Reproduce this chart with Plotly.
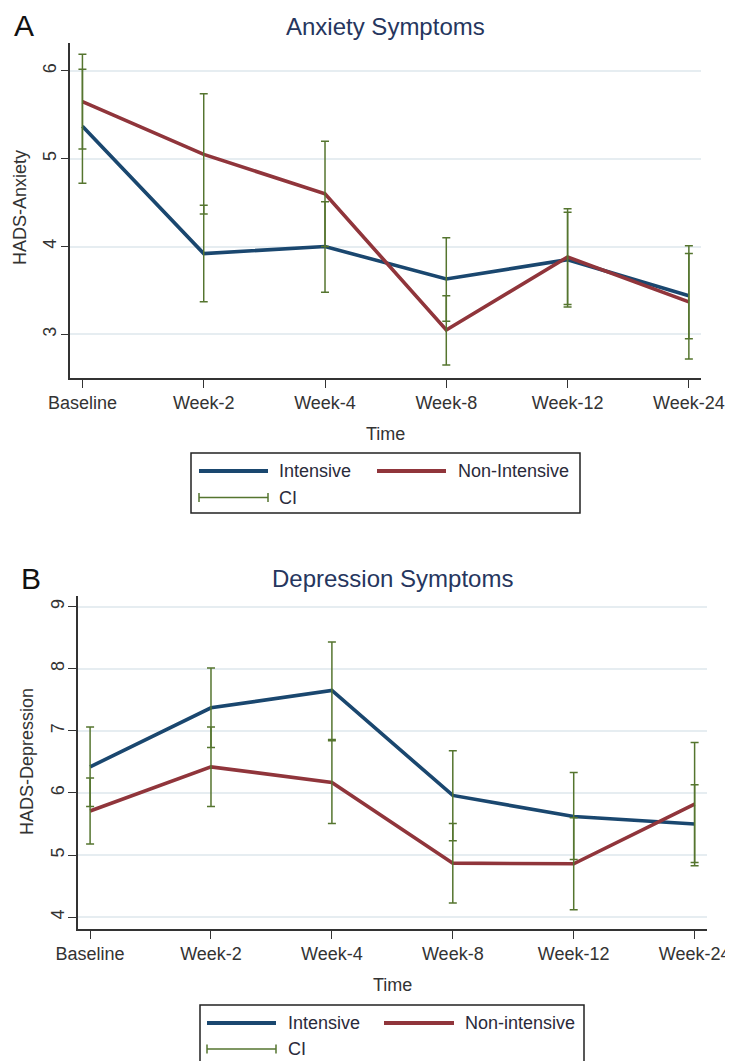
import plotly.graph_objects as go

# ---------------- data ----------------
timepoints = ["Baseline", "Week-2", "Week-4", "Week-8", "Week-12", "Week-24"]

# Panel A: HADS-Anxiety
anx_int_mean = [5.37, 3.92, 4.00, 3.63, 3.85, 3.44]
anx_int_lo = [4.72, 3.37, 3.48, 3.15, 3.31, 2.95]
anx_int_hi = [6.02, 4.47, 4.51, 4.10, 4.39, 3.92]
anx_non_mean = [5.65, 5.05, 4.60, 3.05, 3.88, 3.37]
anx_non_lo = [5.11, 4.37, 4.00, 2.65, 3.34, 2.72]
anx_non_hi = [6.19, 5.74, 5.20, 3.44, 4.43, 4.01]
anx_ticks = [3, 4, 5, 6]

# Panel B: HADS-Depression
dep_int_mean = [6.42, 7.37, 7.65, 5.96, 5.62, 5.50]
dep_int_lo = [5.78, 6.73, 6.86, 5.23, 4.93, 4.88]
dep_int_hi = [7.06, 8.01, 8.43, 6.68, 6.33, 6.13]
dep_non_mean = [5.71, 6.42, 6.17, 4.87, 4.86, 5.82]
dep_non_lo = [5.18, 5.78, 5.51, 4.23, 4.12, 4.83]
dep_non_hi = [6.24, 7.06, 6.84, 5.51, 5.60, 6.81]
dep_ticks = [4, 5, 6, 7, 8, 9]

# ---------------- style ----------------
# the page body has an 8px margin, so the figure is offset by 8px on screen
OX, OY = 8, 8
W, H = 725, 1053
BLUE = "#1a476f"
RED = "#90353b"
GREEN = "#55752f"
TITLE_C = "#26365e"
TXT = "#333333"
GRID = "#e6edf1"
FONT = "Liberation Sans, Arial, sans-serif"


def px(x):
    return (x - OX) / W


def py(y):
    return 1 - (y - OY) / H


fig = go.Figure()


def add_panel(xa, ya, int_mean, int_lo, int_hi, non_mean, non_lo, non_hi, names):
    fig.add_trace(go.Scatter(x=timepoints, y=int_mean, mode="lines", name=names[0],
                             line=dict(color=BLUE, width=3.6), xaxis=xa, yaxis=ya,
                             showlegend=False))
    fig.add_trace(go.Scatter(x=timepoints, y=non_mean, mode="lines", name=names[1],
                             line=dict(color=RED, width=3.6), xaxis=xa, yaxis=ya,
                             showlegend=False))
    for mean, lo, hi in ((int_mean, int_lo, int_hi), (non_mean, non_lo, non_hi)):
        fig.add_trace(go.Scatter(
            x=timepoints, y=mean, mode="markers", name="CI",
            marker=dict(size=1, color="rgba(0,0,0,0)"),
            error_y=dict(type="data", symmetric=False,
                         array=[h - m for h, m in zip(hi, mean)],
                         arrayminus=[m - l for m, l in zip(mean, lo)],
                         color=GREEN, thickness=1.5, width=4),
            xaxis=xa, yaxis=ya, showlegend=False, hoverinfo="skip"))


add_panel("x", "y", anx_int_mean, anx_int_lo, anx_int_hi,
          anx_non_mean, anx_non_lo, anx_non_hi, ["Intensive", "Non-Intensive"])
add_panel("x2", "y2", dep_int_mean, dep_int_lo, dep_int_hi,
          dep_non_mean, dep_non_lo, dep_non_hi, ["Intensive", "Non-intensive"])

xcommon = dict(type="category", categoryorder="array", categoryarray=timepoints,
               range=[-0.1, 5.1], showgrid=False, zeroline=False, automargin=False,
               showline=True, linecolor="#333333", linewidth=1.6,
               ticks="outside", ticklen=8, tickwidth=1.3, tickcolor="#333333",
               tickfont=dict(size=18, color=TXT, family=FONT), ticklabelstandoff=0)
ycommon = dict(showgrid=True, gridcolor=GRID, gridwidth=1.5, zeroline=False,
               automargin=False,
               showline=True, linecolor="#333333", linewidth=1.6,
               ticks="outside", ticklen=8, tickwidth=1.3, tickcolor="#333333",
               tickangle=-90, tickfont=dict(size=18, color=TXT, family=FONT),
               ticklabelstandoff=-3)

fig.update_layout(
    template="none",
    width=W, height=H,
    margin=dict(l=0, r=0, t=0, b=0, autoexpand=False),
    paper_bgcolor="white", plot_bgcolor="white",
    font=dict(family=FONT, color=TXT),
    showlegend=False,
    xaxis=dict(domain=[px(70.3), px(701)], anchor="y", **xcommon),
    yaxis=dict(domain=[py(377.7), py(43.3)], anchor="x", range=[2.506, 6.315],
               tickvals=anx_ticks, **ycommon),
    xaxis2=dict(domain=[px(78), px(706.7)], anchor="y2", **xcommon),
    yaxis2=dict(domain=[py(929), py(596)], anchor="x2", range=[3.81, 9.17],
                tickvals=dep_ticks, **ycommon),
)

ann = []


def text(x, y, s, size, color=TXT, angle=0, xanchor="center"):
    ann.append(dict(x=px(x), y=py(y), xref="paper", yref="paper", text=s,
                    showarrow=False, textangle=angle, xanchor=xanchor, yanchor="middle",
                    font=dict(size=size, color=color, family=FONT)))


# panel letters and titles
text(12, 25, "A", 30, "#111111", xanchor="left")
text(386, 26, "Anxiety Symptoms", 24, TITLE_C)
text(19, 578, "B", 30, "#111111", xanchor="left")
text(392, 578, "Depression Symptoms", 24, TITLE_C)
# axis titles
text(20, 208, "HADS-Anxiety", 18, angle=-90)
text(386, 434, "Time", 18)
text(27, 762, "HADS-Depression", 18, angle=-90)
text(392, 985, "Time", 18)

shapes = []


def legend(x0, y0, x1, y1, lx0, lx1, tx1, rx0, rx1, tx2, r1, r2, nonname):
    shapes.append(dict(type="rect", xref="paper", yref="paper",
                       x0=px(x0), x1=px(x1), y0=py(y0), y1=py(y1),
                       line=dict(color="#222222", width=1.5), fillcolor="rgba(0,0,0,0)"))
    shapes.append(dict(type="line", xref="paper", yref="paper", x0=px(lx0), x1=px(lx1),
                       y0=py(r1), y1=py(r1), line=dict(color=BLUE, width=4)))
    shapes.append(dict(type="line", xref="paper", yref="paper", x0=px(rx0), x1=px(rx1),
                       y0=py(r1), y1=py(r1), line=dict(color=RED, width=4)))
    shapes.append(dict(type="line", xref="paper", yref="paper", x0=px(lx0), x1=px(lx1),
                       y0=py(r2), y1=py(r2), line=dict(color=GREEN, width=1.5)))
    for xx in (lx0, lx1):
        shapes.append(dict(type="line", xref="paper", yref="paper", x0=px(xx), x1=px(xx),
                           y0=py(r2 - 4.5), y1=py(r2 + 4.5), line=dict(color=GREEN, width=1.5)))
    text(tx1, r1, "Intensive", 18, "#2a2a3a", xanchor="left")
    text(tx2, r1, nonname, 18, "#2a2a3a", xanchor="left")
    text(tx1, r2, "CI", 18, "#2a2a3a", xanchor="left")


legend(191, 453, 580, 513, 199, 268, 277, 377, 446, 456, 471, 497.5, "Non-Intensive")
legend(200, 1005, 584, 1075, 207, 276, 286, 384, 454, 463, 1023, 1049, "Non-intensive")

fig.update_layout(annotations=ann, shapes=shapes)

fig.write_html("out.html")
